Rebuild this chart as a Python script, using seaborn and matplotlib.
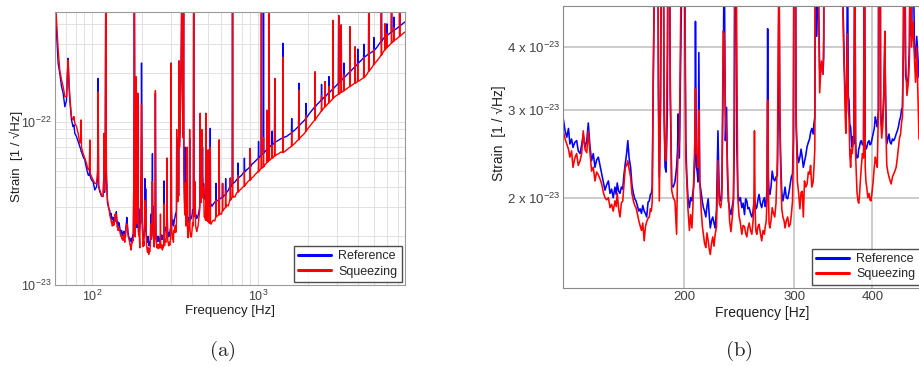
import numpy as np
import pandas as pd
import matplotlib
matplotlib.use("Agg")
import matplotlib.pyplot as plt
import seaborn as sns
from matplotlib.ticker import FixedLocator, FixedFormatter, NullFormatter, NullLocator
from matplotlib.lines import Line2D

# ---------------- data (strain values in units of 1e-25 / sqrt(Hz)) ----------------
FREQ_LOW = [60.0, 61.3, 62.7, 64.1, 65.7, 67.2, 68.8, 70.4, 71.2, 72.0, 72.8, 73.7, 75.4, 77.1,
            78.0, 79.0, 80.9, 82.7, 84.7, 85.7, 86.2, 86.7, 88.6, 90.7, 92.9, 95.0, 96.5, 97.3,
            98.0, 99.6, 101.8, 104.2, 106.7, 108.3, 109.1, 109.9, 111.7, 114.4, 117.0, 118.0,
            118.6, 119.3, 120.4, 121.4, 122.4, 124.3, 127.1]
REF_LOW = [6000, 3500, 2290, 1990, 1650, 1500, 1240, 1360, 1900, 2460, 1700, 1360, 1030, 936,
           960, 851, 812, 760, 706, 680, 660, 657, 613, 585, 520, 473, 470, 520,
           460, 441, 430, 383, 400, 450, 1850, 400, 374, 350, 356, 450,
           851, 370, 550, 9000, 450, 317, 289]
SQZ_LOW = [6000, 4200, 2770, 2080, 1810, 1650, 1430, 1430, 2000, 2400, 1800, 1430, 1080, 1030,
           1080, 983, 936, 851, 741, 780, 1030, 700, 640, 600, 558, 508, 520, 776,
           480, 462, 441, 420, 420, 500, 1530, 410, 383, 356, 348, 470,
           851, 380, 650, 9000, 500, 332, 289]

FREQ_MID = [128.1, 129.0, 129.8, 130.6, 131.3, 132.1, 132.8, 133.7, 134.6, 135.4, 136.3, 137.1,
            137.9, 138.8, 139.7, 140.5, 141.3, 142.2, 143.1, 144.0, 144.9, 145.8, 146.7, 147.6,
            148.5, 149.4, 150.3, 151.3, 152.2, 153.1, 154.0, 155.0, 155.7, 156.3, 157.1, 157.9,
            158.7, 159.5, 160.2, 161.0, 161.8, 162.5, 163.3, 164.2, 165.0, 165.9, 166.7, 167.5,
            168.3, 169.2, 170.0, 170.9, 171.7, 172.6, 173.4, 174.2, 175.1, 175.9, 176.6, 177.2,
            177.8, 178.4, 179.2, 180.5, 181.9, 182.5, 183.3, 184.8, 185.7, 186.4, 187.1, 188.0,
            189.0, 190.0, 191.0, 192.1, 193.3, 194.5, 195.2, 195.7, 196.5, 197.6, 198.4, 199.2,
            200.4, 201.2, 201.9, 202.8, 203.9, 204.8, 205.8, 206.5, 207.1, 208.0, 208.5, 209.2,
            209.8, 210.5, 211.1, 211.8, 213.0, 213.9, 214.7, 215.6, 216.6, 217.5, 218.5, 219.3,
            220.2, 221.2, 222.2, 223.2, 224.2, 225.3, 226.5, 227.6, 228.8, 229.8, 230.9, 231.8,
            232.8, 233.8, 234.6, 235.3, 236.4, 237.6, 238.7, 239.8, 240.5, 241.5, 242.7, 243.7,
            244.8, 246.0, 247.3, 248.5, 249.8, 250.8, 251.9, 253.0, 254.1, 255.4, 256.6, 257.8,
            258.6, 259.1, 259.7, 260.4, 261.3, 262.4, 263.5, 264.8, 266.1, 267.4, 268.7, 269.6,
            270.6, 271.4, 272.0, 272.7, 273.4, 274.2, 275.4, 276.6, 277.9, 279.2, 280.5, 281.9,
            282.8, 283.6, 284.5, 285.3, 286.5, 287.7, 288.9, 290.0, 291.4, 292.8, 294.2, 295.6,
            296.8, 298.1, 299.0, 300.5, 302.0, 303.4, 304.8, 306.3, 307.6, 308.9, 310.2, 311.5,
            313.0, 314.5, 316.0, 317.4, 318.6, 320.0, 321.6, 322.6, 323.6, 324.5, 325.6, 327.5,
            329.4, 331.4, 333.4, 334.4, 335.3, 337.0, 340.0, 343.0, 346.0, 348.5, 351.0, 353.0,
            355.0, 357.0, 358.5, 359.5, 360.6, 361.7, 362.8, 364.0, 365.0, 366.0, 367.0, 368.1,
            369.2, 370.3, 371.4, 372.5, 373.6, 375.0, 376.0, 376.7, 378.0, 379.4, 380.3, 381.3,
            382.6, 384.0, 385.6, 387.2, 388.4, 389.6, 390.7, 391.8, 393.4, 395.1, 396.5, 397.9,
            399.5, 401.2, 402.8, 404.4, 405.8, 407.3, 409.0, 410.7, 412.3, 414.0, 415.7, 417.3,
            418.8, 420.3, 421.8, 423.5, 425.3, 427.0, 428.7, 430.7, 432.7, 434.6, 436.6, 438.5,
            440.3, 442.0, 443.8, 445.4, 446.9, 448.5, 450.0, 452.0, 454.3, 456.6, 458.5, 460.2,
            462.0, 464.6, 467.0, 469.0, 471.0]
REF_MID = [288, 272, 264, 275, 256, 262, 252, 258, 260, 248, 245, 255,
           267, 252, 260, 282, 255, 237, 245, 230, 238, 241, 232, 223,
           215, 207, 212, 216, 204, 208, 200, 210, 203, 214, 206, 204,
           210, 208, 222, 234, 245, 260, 240, 230, 212, 204, 199, 197,
           193, 188, 190, 186, 193, 188, 186, 183, 196, 197, 203, 204,
           210, 333, 520, 8000, 340, 220, 300, 1890, 300, 230, 225, 300,
           1500, 320, 212, 210, 215, 230, 250, 294, 240, 400, 600, 2300,
           500, 260, 223, 200, 191, 200, 197, 205, 210, 240, 450, 230,
           226, 215, 390, 215, 204, 196, 191, 188, 183, 192, 199, 185,
           174, 180, 183, 178, 174, 190, 272, 200, 197, 210, 350, 640,
           260, 303, 220, 197, 190, 185, 192, 199, 250, 1500, 260, 205,
           197, 200, 191, 195, 185, 199, 197, 190, 191, 186, 183, 188,
           195, 199, 195, 190, 191, 198, 203, 195, 191, 197, 200, 192,
           196, 210, 435, 220, 205, 203, 210, 226, 218, 216, 220, 221,
           300, 600, 280, 241, 205, 197, 203, 210, 200, 199, 205, 213,
           220, 223, 260, 2300, 280, 245, 235, 241, 250, 241, 230, 236,
           243, 253, 258, 262, 270, 275, 268, 281, 290, 800, 420, 560,
           360, 370, 353, 382, 2370, 700, 900, 1500, 3000, 8000, 3000, 1200,
           800, 6000, 500, 450, 370, 330, 300, 330, 700, 320, 313, 280,
           277, 260, 252, 265, 256, 700, 260, 245, 240, 241, 250, 252,
           258, 260, 255, 256, 800, 255, 250, 252, 258, 260, 255, 256,
           262, 268, 275, 290, 283, 277, 300, 6000, 300, 277, 290, 320,
           406, 300, 256, 262, 268, 258, 256, 262, 260, 263, 268, 272,
           277, 285, 290, 300, 303, 400, 1130, 350, 340, 348, 400, 800,
           420, 700, 400, 380, 420]
SQZ_MID = [272, 262, 256, 250, 241, 248, 230, 240, 245, 232, 237, 245,
           272, 250, 246, 272, 248, 226, 230, 216, 225, 222, 218, 213,
           205, 200, 198, 200, 191, 194, 188, 197, 192, 204, 190, 183,
           195, 197, 212, 230, 232, 237, 228, 220, 204, 197, 193, 191,
           186, 180, 176, 172, 178, 164, 175, 179, 182, 183, 190, 188,
           196, 320, 560, 8000, 313, 197, 320, 1890, 303, 240, 237, 400,
           1500, 350, 207, 200, 197, 169, 230, 250, 260, 500, 900, 1280,
           700, 240, 216, 190, 172, 185, 174, 190, 216, 260, 330, 245,
           245, 230, 299, 215, 188, 175, 169, 162, 159, 170, 164, 158,
           154, 162, 167, 160, 169, 175, 237, 195, 191, 200, 430, 425,
           300, 267, 230, 206, 180, 171, 182, 197, 300, 1560, 400, 200,
           184, 178, 169, 176, 175, 170, 167, 174, 178, 172, 169, 180,
           200, 272, 190, 172, 169, 175, 177, 170, 164, 172, 169, 175,
           180, 200, 313, 210, 178, 174, 180, 191, 186, 183, 195, 237,
           400, 600, 300, 230, 190, 183, 180, 174, 180, 183, 175, 177,
           185, 197, 260, 2300, 300, 216, 205, 190, 205, 206, 183, 216,
           210, 213, 225, 223, 232, 210, 215, 230, 250, 900, 500, 600,
           324, 375, 353, 420, 2370, 700, 900, 1500, 3000, 8000, 3000, 1200,
           800, 6000, 500, 420, 365, 300, 269, 350, 425, 300, 290, 245,
           230, 250, 245, 255, 268, 700, 245, 230, 205, 197, 195, 200,
           215, 230, 245, 240, 900, 230, 215, 210, 200, 204, 198, 197,
           205, 216, 230, 241, 235, 230, 300, 6000, 290, 263, 280, 330,
           430, 280, 232, 225, 220, 216, 213, 220, 223, 226, 230, 240,
           252, 263, 268, 283, 290, 450, 1130, 380, 320, 339, 380, 900,
           400, 450, 380, 340, 400]

FREQ_HIGH = [475, 482, 490, 498, 506, 514, 522, 531, 540, 551, 564, 576, 590, 604, 618, 633,
             648, 663, 678, 694, 710, 727, 744, 762, 780, 797, 815, 835, 855, 875, 895, 917,
             940, 960, 982, 1006, 1030, 1053, 1076, 1100, 1125, 1152, 1180, 1210, 1240, 1268,
             1296, 1338, 1380, 1420, 1455, 1489, 1535, 1580, 1625, 1671, 1730, 1790, 1855, 1919,
             1985, 2050, 2125, 2205, 2280, 2360, 2445, 2533, 2625, 2720, 2815, 2910, 3015, 3120,
             3230, 3343, 3460, 3580, 3710, 3840, 3975, 4110, 4260, 4411, 4570, 4730, 4900, 5067,
             5250, 5430, 5620, 5820, 6030, 6240, 6460, 6686, 6890, 7100, 7300, 7500, 7800]
REF_HIGH = [348, 335, 330, 318, 308, 302, 312, 305, 315, 322, 332, 328, 338, 342, 348, 356,
            370, 380, 400, 405, 420, 428, 441, 452, 462, 470, 486, 495, 508, 518, 531, 548,
            560, 572, 585, 600, 612, 628, 643, 655, 675, 690, 706, 720, 735, 748,
            760, 775, 790, 800, 810, 815, 835, 850, 872, 893, 925, 960, 995, 1030,
            1080, 1130, 1185, 1240, 1285, 1330, 1380, 1430, 1480, 1530, 1585, 1640, 1700, 1760,
            1825, 1890, 1960, 2030, 2105, 2180, 2260, 2340, 2425, 2510, 2580, 2640, 2700, 2770,
            2900, 3050, 3180, 3320, 3410, 3500, 3580, 3670, 3760, 3850, 3940, 4030, 4150]
SQZ_HIGH = [262, 258, 250, 246, 241, 239, 236, 245, 250, 247, 262, 268, 275, 272, 289, 295,
            310, 305, 332, 340, 350, 346, 366, 372, 383, 390, 400, 408, 420, 433, 441, 452,
            462, 475, 486, 495, 508, 520, 531, 545, 558, 570, 585, 598, 610, 618,
            630, 640, 655, 650, 660, 673, 690, 705, 722, 740, 770, 800, 826, 856,
            900, 940, 985, 1030, 1080, 1130, 1185, 1240, 1285, 1330, 1380, 1430, 1465, 1500,
            1535, 1570, 1610, 1650, 1690, 1730, 1765, 1800, 1845, 1890, 1980, 2080, 2180, 2290,
            2390, 2500, 2630, 2770, 2875, 2980, 3080, 3180, 3250, 3330, 3410, 3490, 3600]

# narrow spectral lines above 470 Hz: frequency, floor level and peak for each trace
LINE_FREQ = [486, 502, 517, 560, 585, 613, 640, 683, 704, 760, 830, 900, 1010, 1052, 1082,
             1137, 1170, 1220, 1265, 1419, 1600, 1766, 1950, 2212, 2420, 2540, 2680, 2840,
             3070, 3180, 3300, 3585, 3850, 4000, 4350, 4661, 5000, 5550, 5830, 6000, 6390,
             6600, 7160]
LINE_REF_BASE = [330, 310, 302, 330, 335, 345, 360, 400, 418, 452, 495, 531, 600, 628, 643,
                 680, 700, 725, 750, 800, 860, 940, 1050, 1240, 1365, 1430, 1510, 1600,
                 1740, 1800, 1865, 2030, 2180, 2280, 2480, 2620, 2740, 3120, 3320, 3400, 3580,
                 3640, 3880]
LINE_REF_PEAK = [1130, 673, 915, 420, 776, 420, 450, 453, 9000, 560, 600, 688, 760, 9000, 9000,
                 1180, 9000, 880, 1850, 3040, 1050, 1730, 1300, 2030, 1700, 1770, 1900, 4200,
                 4500, 3940, 2300, 3840, 2890, 2800, 3000, 9000, 3300, 9000, 4000, 4000, 9000,
                 4400, 9000]
LINE_SQZ_BASE = [250, 245, 239, 262, 270, 285, 300, 332, 345, 372, 405, 441, 497, 520, 531,
                 565, 580, 600, 620, 650, 712, 780, 880, 1030, 1170, 1240, 1310, 1400,
                 1480, 1520, 1555, 1650, 1730, 1775, 1870, 2050, 2250, 2580, 2770, 2860, 3050,
                 3140, 3360]
LINE_SQZ_PEAK = [1130, 673, 700, 330, 776, 420, 380, 453, 9000, 470, 500, 688, 600, 9000, 800,
                 1180, 9000, 720, 1850, 2500, 870, 1570, 1100, 2030, 1450, 1770, 1650, 4200,
                 4500, 3940, 1950, 3840, 2890, 2300, 2500, 9000, 2800, 9000, 4000, 3500, 9000,
                 3800, 9000]

SERIES = ["Reference", "Squeezing"]
COLORS = {"Reference": "#0000ff", "Squeezing": "#ff0000"}
UNIT = 1e-25

# ---------------- assemble long-form table ----------------
rows_f, rows_v, rows_s = [], [], []
def add(fs, vs, name):
    rows_f.extend(fs); rows_v.extend(vs); rows_s.extend([name] * len(fs))

add(FREQ_LOW, REF_LOW, "Reference"); add(FREQ_LOW, SQZ_LOW, "Squeezing")
add(FREQ_MID, REF_MID, "Reference"); add(FREQ_MID, SQZ_MID, "Squeezing")
add(FREQ_HIGH, REF_HIGH, "Reference"); add(FREQ_HIGH, SQZ_HIGH, "Squeezing")
for f, rb, rp, sb, sp in zip(LINE_FREQ, LINE_REF_BASE, LINE_REF_PEAK, LINE_SQZ_BASE, LINE_SQZ_PEAK):
    add([f * 0.996, f, f * 1.004], [rb, rp, rb], "Reference")
    add([f * 0.996, f, f * 1.004], [sb, sp, sb], "Squeezing")

df = pd.DataFrame({"Frequency": rows_f, "Strain": np.array(rows_v, float) * UNIT, "Series": rows_s})

# ---------------- style ----------------
sns.set_theme(style="white")
plt.rcParams["font.family"] = ["Liberation Sans", "DejaVu Sans"]
plt.rcParams["mathtext.fontset"] = "cm"
plt.rcParams["xtick.direction"] = "in"
plt.rcParams["ytick.direction"] = "in"

W, H = 919, 367
fig = plt.figure(figsize=(W / 100, H / 100), dpi=100)

def px_axes(l, t, r, b):
    return fig.add_axes([l / W, 1 - b / H, (r - l) / W, (b - t) / H])

ax1 = px_axes(55, 12, 405, 285)
ax2 = px_axes(563, 6, 923, 288)

for ax, lw in ((ax1, 1.0), (ax2, 1.15)):
    sns.lineplot(data=df, x="Frequency", y="Strain", hue="Series", hue_order=SERIES,
                 palette=COLORS, estimator=None, sort=True, lw=lw, legend=False, ax=ax)
    ax.set_xscale("log"); ax.set_yscale("log")

def exp_lab(e):
    return r"$\mathregular{10^{%d}}$" % e

# ---- panel (a) ----
ax1.set_xlim(60, 7700)
ax1.set_ylim(1e-23, 4.73e-22)
ax1.xaxis.set_major_locator(FixedLocator([100, 1000]))
ax1.xaxis.set_major_formatter(FixedFormatter([exp_lab(2), exp_lab(3)]))
ax1.xaxis.set_minor_locator(FixedLocator([70, 80, 90, 200, 300, 400, 500, 600, 700, 800, 900,
                                          2000, 3000, 4000, 5000, 6000, 7000]))
ax1.xaxis.set_minor_formatter(NullFormatter())
ax1.yaxis.set_major_locator(FixedLocator([1e-23, 1e-22]))
ax1.yaxis.set_major_formatter(FixedFormatter([exp_lab(-23), exp_lab(-22)]))
ax1.yaxis.set_minor_locator(FixedLocator([k * 1e-23 for k in range(2, 10)] + [2e-22, 3e-22, 4e-22]))
ax1.yaxis.set_minor_formatter(NullFormatter())
ax1.grid(which="both", color="#e2e2e2", lw=0.7)
ax1.tick_params(which="both", labelsize=9, colors="#404040", length=3, width=0.6, pad=2.5)
ax1.tick_params(which="minor", length=1.5)
for s in ax1.spines.values():
    s.set_color("#9a9a9a"); s.set_linewidth(0.8)
ax1.set_xlabel("Frequency [Hz]", fontsize=9.5, labelpad=1, color="#202020")
ax1.set_ylabel("Strain  [1 / \u221aHz]", fontsize=9.5, color="#202020")
ax1.yaxis.set_label_coords(-0.091, 0.47)

# ---- panel (b) ----
ax2.set_xlim(128, 482)
ax2.set_ylim(1.32e-23, 4.83e-23)
ax2.xaxis.set_major_locator(FixedLocator([200, 300, 400]))
ax2.xaxis.set_major_formatter(FixedFormatter(["200", "300", "400"]))
ax2.xaxis.set_minor_locator(NullLocator())
ax2.yaxis.set_major_locator(FixedLocator([2e-23, 3e-23, 4e-23]))
ax2.yaxis.set_major_formatter(FixedFormatter(["%d x %s" % (k, exp_lab(-23)) for k in (2, 3, 4)]))
ax2.yaxis.set_minor_locator(NullLocator())
ax2.grid(which="major", color="#c4c4c4", lw=1.2)
ax2.tick_params(which="both", labelsize=9.5, colors="#404040", length=3, width=0.6, pad=2)
for s in ax2.spines.values():
    s.set_color("#8a8a8a"); s.set_linewidth(0.8)
ax2.set_xlabel("Frequency [Hz]", fontsize=10, color="#202020")
ax2.set_ylabel("Strain  [1 / \u221aHz]", fontsize=10, color="#202020")
ax2.xaxis.set_label_coords(0.553, -0.065)
ax2.yaxis.set_label_coords(-0.158, 0.55)

# legends
handles = [Line2D([], [], color=COLORS[s], lw=2.2) for s in SERIES]
for ax in (ax1, ax2):
    leg = ax.legend(handles, SERIES, loc="lower right", fontsize=9, frameon=True, fancybox=False,
                    edgecolor="#202020", borderaxespad=0.25, handlelength=2.6, handletextpad=0.6,
                    borderpad=0.35, labelspacing=0.25)
    leg.get_frame().set_linewidth(1.0)

fig.text(222 / W, 1 - 351 / H, r"$\mathrm{(a)}$", fontsize=15, ha="center", va="center")
fig.text(739 / W, 1 - 351 / H, r"$\mathrm{(b)}$", fontsize=15, ha="center", va="center")

fig.savefig("out.png", dpi=100)
